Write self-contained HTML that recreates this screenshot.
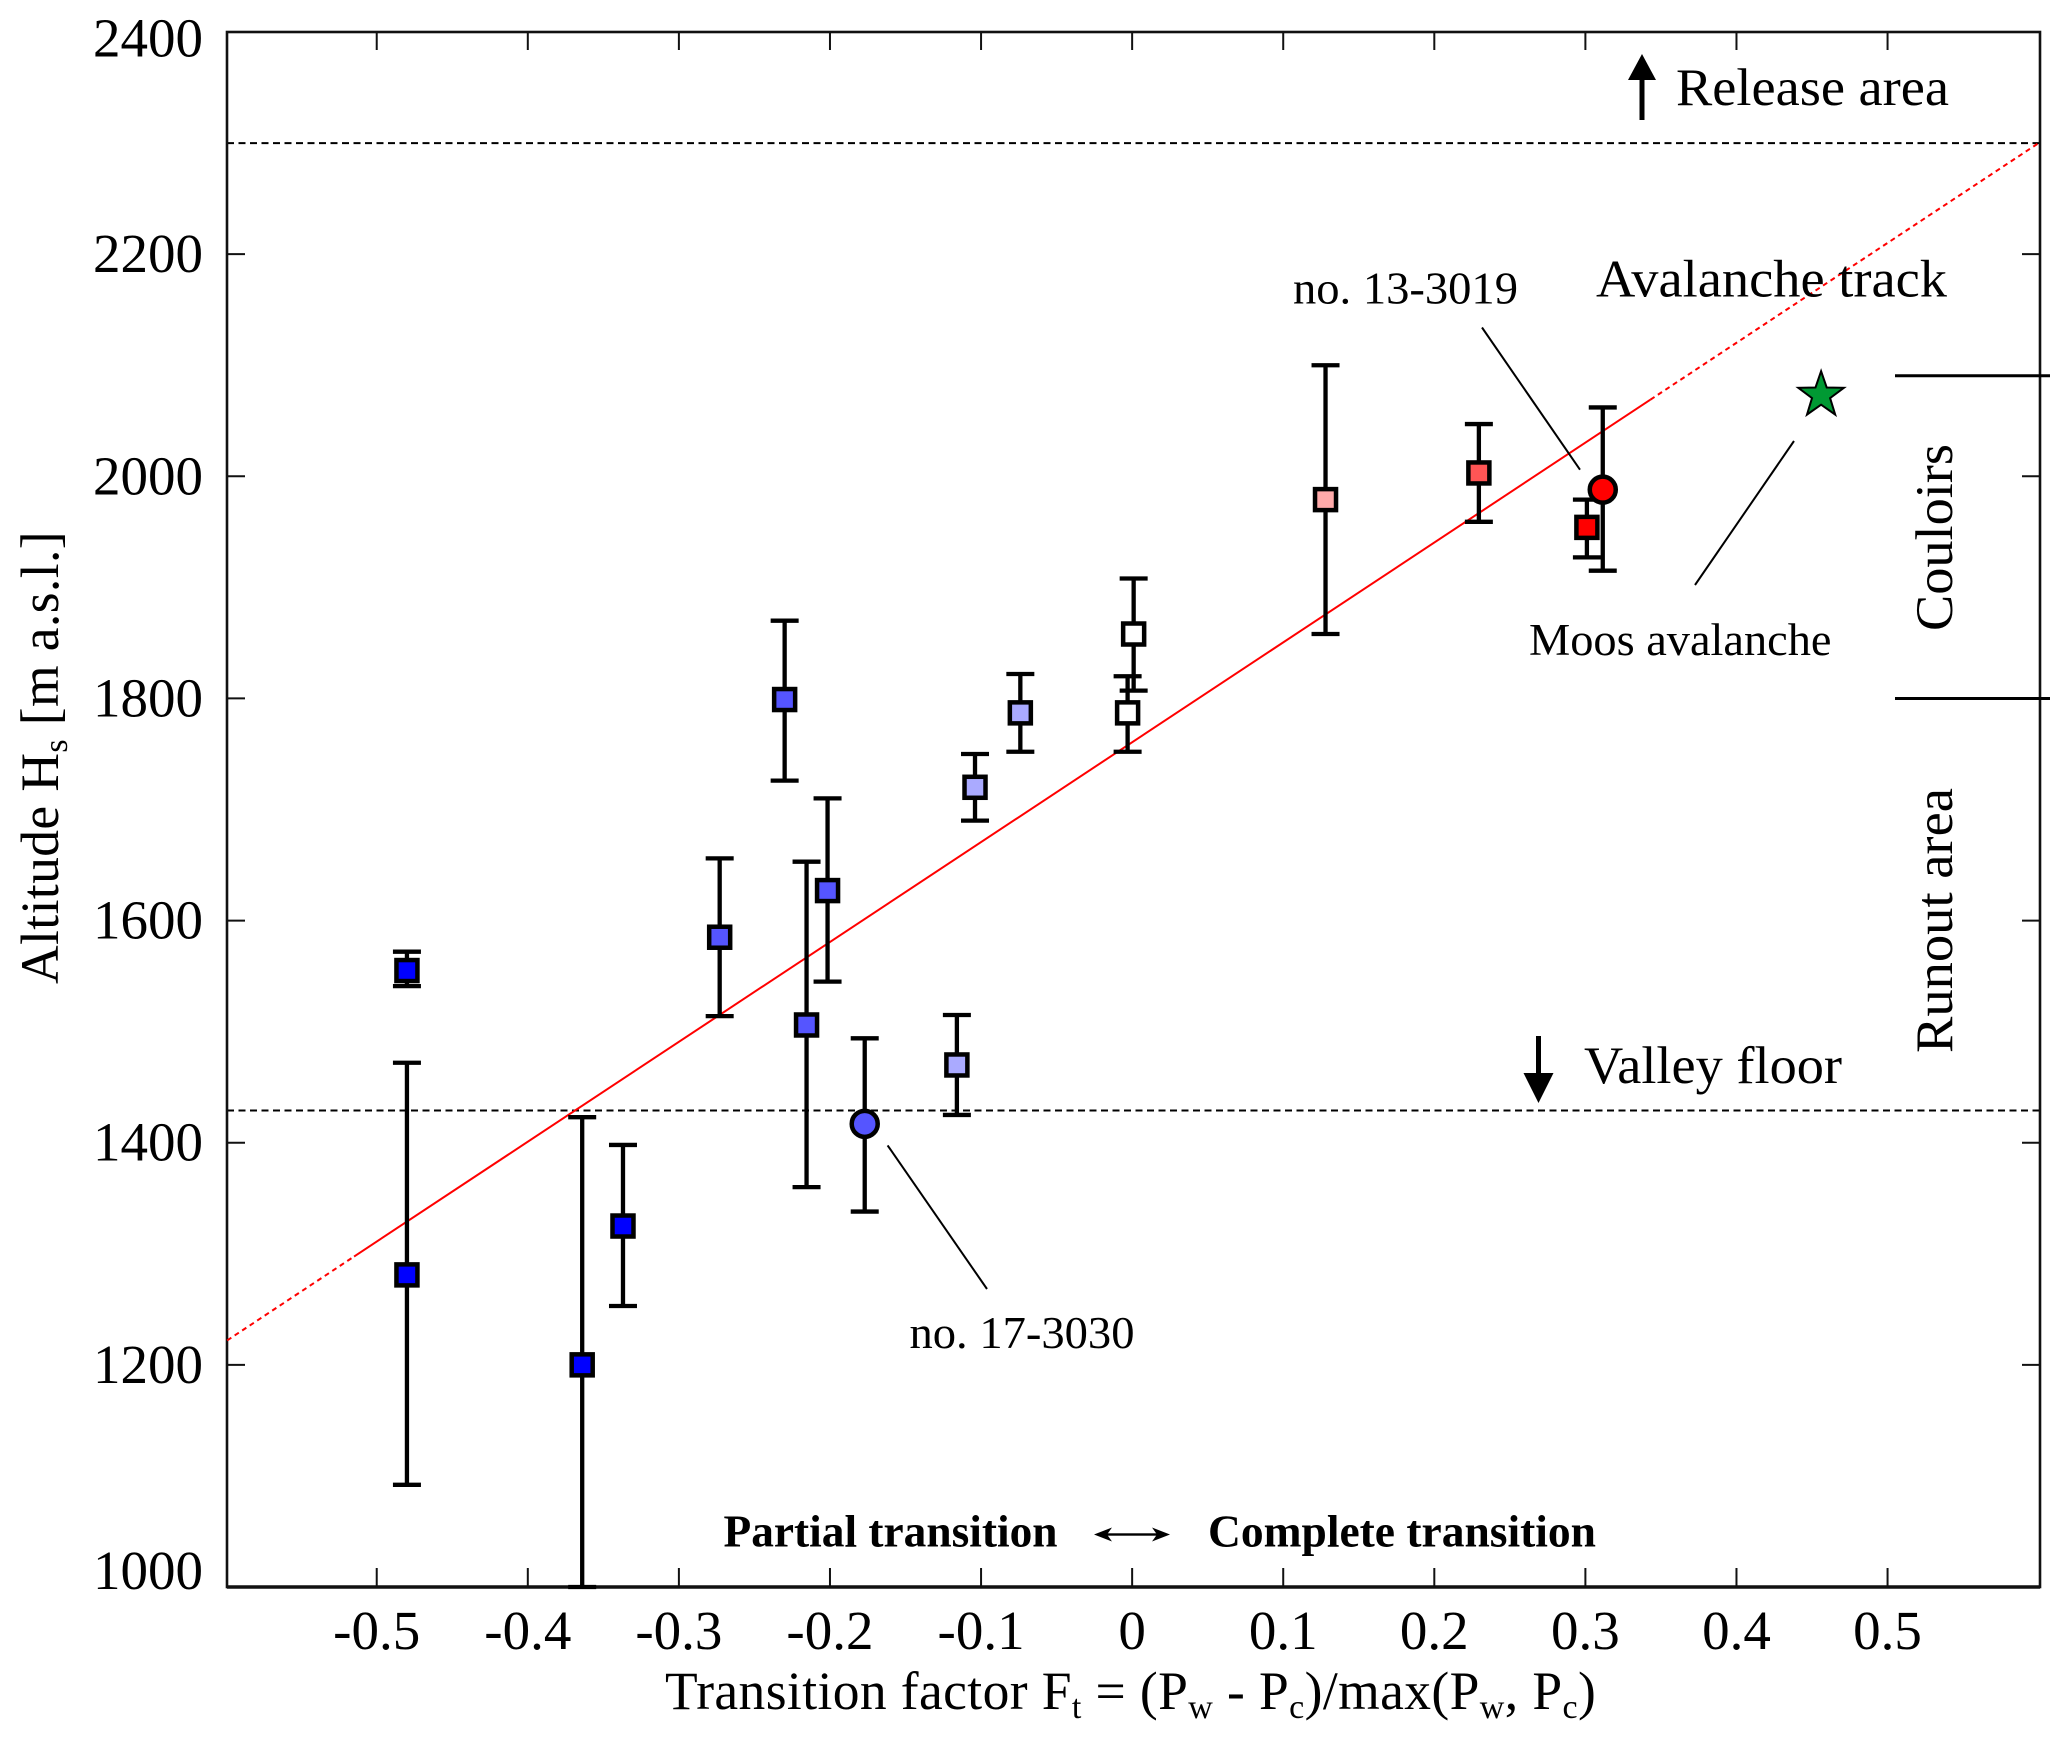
<!DOCTYPE html>
<html lang="en">
<head>
<meta charset="utf-8">
<title>Altitude vs transition factor</title>
<style>
html,body{margin:0;padding:0;background:#fff;}
svg{display:block;}
text{font-family:"Liberation Serif",serif;fill:#000;}
</style>
</head>
<body>
<svg id="chart" xmlns="http://www.w3.org/2000/svg" width="2067" height="1744" viewBox="0 0 2067 1744">
  <rect x="0" y="0" width="2067" height="1744" fill="#fff"/>
  <g id="grid-layer"></g>
  <g id="axis-layer"></g>
  <g id="fit-layer"></g>
  <g id="mark-layer"></g>

  <text x="665" y="1709" font-size="53.5" letter-spacing="0.4">Transition factor F<tspan font-size="34" dy="9">t</tspan><tspan dy="-9"> = (P</tspan><tspan font-size="34" dy="9">w</tspan><tspan dy="-9"> - P</tspan><tspan font-size="34" dy="9">c</tspan><tspan dy="-9">)/max(P</tspan><tspan font-size="34" dy="9">w</tspan><tspan dy="-9">, P</tspan><tspan font-size="34" dy="9">c</tspan><tspan dy="-9">)</tspan></text>
  <text transform="translate(58,984) rotate(-90)" font-size="53.5" letter-spacing="0.4">Altitude H<tspan font-size="34" dy="9">s</tspan><tspan dy="-9"> [m a.s.l.]</tspan></text>

  <text x="1676" y="105" font-size="53" textLength="273" lengthAdjust="spacingAndGlyphs">Release area</text>
  <text x="1596" y="296.5" font-size="53" textLength="351" lengthAdjust="spacingAndGlyphs">Avalanche track</text>
  <text x="1584" y="1083" font-size="53" textLength="258" lengthAdjust="spacingAndGlyphs">Valley floor</text>
  <text transform="translate(1952,631) rotate(-90)" font-size="53" textLength="187" lengthAdjust="spacingAndGlyphs">Couloirs</text>
  <text transform="translate(1952,1053) rotate(-90)" font-size="53" textLength="265" lengthAdjust="spacingAndGlyphs">Runout area</text>

  <text x="1293" y="303.5" font-size="45" textLength="225" lengthAdjust="spacingAndGlyphs">no. 13-3019</text>
  <text x="1529" y="655" font-size="45" textLength="302.5" lengthAdjust="spacingAndGlyphs">Moos avalanche</text>
  <text x="909.5" y="1348" font-size="45" textLength="225" lengthAdjust="spacingAndGlyphs">no. 17-3030</text>

  <text x="723.5" y="1546.5" font-size="46" font-weight="bold" textLength="334" lengthAdjust="spacingAndGlyphs">Partial transition</text>
  <text x="1208" y="1546.5" font-size="46" font-weight="bold" textLength="388" lengthAdjust="spacingAndGlyphs">Complete transition</text>

  <g fill="#000" stroke="none">
    <rect x="1098.6" y="1533.3" width="64.7" height="2.4"/>
    <polygon points="1094,1534.5 1112,1527.5 1107,1534.5 1112,1541.5"/>
    <polygon points="1170,1534.5 1152,1527.5 1157,1534.5 1152,1541.5"/>
  </g>

  <g>
    <rect x="1639.5" y="70" width="5" height="50" fill="#000"/>
    <polygon points="1642,54 1628,80 1656,80" fill="#000"/>
  </g>
  <g>
    <rect x="1536" y="1036" width="5" height="40" fill="#000"/>
    <polygon points="1538.5,1103 1523.5,1073 1553.5,1073" fill="#000"/>
  </g>

  <line x1="1482" y1="327.5" x2="1580" y2="469.7" stroke="#000" stroke-width="2"/>
  <line x1="1794" y1="441" x2="1695" y2="585" stroke="#000" stroke-width="2"/>
  <line x1="887.6" y1="1145.4" x2="987" y2="1289" stroke="#000" stroke-width="2"/>

  <line x1="1895" y1="375.7" x2="2050" y2="375.7" stroke="#000" stroke-width="3"/>
  <line x1="1895" y1="698.5" x2="2050" y2="698.5" stroke="#000" stroke-width="3"/>
</svg>

<script>
// Chart data
const xTickLabels = ['-0.5', '-0.4', '-0.3', '-0.2', '-0.1', '0', '0.1', '0.2', '0.3', '0.4', '0.5'];
const yTickLabels = ['1000', '1200', '1400', '1600', '1800', '2000', '2200', '2400'];
const transitionFactor = [-0.48, -0.48, -0.364, -0.337, -0.273, -0.23, -0.2155, -0.2016, -0.177, -0.116, -0.104, -0.074, -0.003, 0.001, 0.128, 0.2295, 0.301, 0.3115];
const altitude = [1555, 1281, 1200, 1325, 1585, 1799, 1506, 1627, 1417, 1470, 1720, 1787, 1787, 1858, 1979, 2003, 1954, 1988];
const altitudeHigh = [1572, 1472, 1423, 1398, 1656, 1870, 1653, 1710, 1494, 1515, 1750, 1822, 1820, 1908, 2100, 2047, 1979, 2062];
const altitudeLow = [1541, 1092, 1000, 1253, 1514, 1726, 1360, 1545, 1338, 1425, 1690, 1752, 1752, 1807, 1858, 1959, 1927, 1915];
const pointKinds = ['square', 'square', 'square', 'square', 'square', 'square', 'square', 'square', 'circle', 'square', 'square', 'square', 'square', 'square', 'square', 'square', 'square', 'circle'];
const referenceAltitudes = [2300, 1429];
const fitEndsX = [-0.599, 0.6];
const fitEndsY = [1222, 2300];
const fitSolidRange = [-0.515, 0.343];
const starPoint = [0.456, 2073];

const xAxisMin = -0.5991, xAxisMax = 0.6009;
const yAxisMin = 1000, yAxisMax = 2400;
const plotLeft = 227, plotRight = 2040, plotTop = 32, plotBottom = 1587;

function sx(v) { return plotLeft + (v - xAxisMin) / (xAxisMax - xAxisMin) * (plotRight - plotLeft); }
function sy(v) { return plotBottom - (v - yAxisMin) / (yAxisMax - yAxisMin) * (plotBottom - plotTop); }

function fitY(v) {
  const t = (v - fitEndsX[0]) / (fitEndsX[1] - fitEndsX[0]);
  return fitEndsY[0] + t * (fitEndsY[1] - fitEndsY[0]);
}

function shadeFor(ft) {
  if (ft < -0.3) return '#0000ff';
  if (ft < -0.15) return '#5555ff';
  if (ft < -0.05) return '#aaaaff';
  if (ft < 0.05) return '#ffffff';
  if (ft < 0.2) return '#ffaaaa';
  if (ft < 0.3) return '#ff5555';
  return '#ff0000';
}

const NS = 'http://www.w3.org/2000/svg';
function make(tag, attrs, parent) {
  const node = document.createElementNS(NS, tag);
  for (const k in attrs) node.setAttribute(k, attrs[k]);
  parent.appendChild(node);
  return node;
}

const gridLayer = document.getElementById('grid-layer');
const axisLayer = document.getElementById('axis-layer');
const fitLayer = document.getElementById('fit-layer');
const markLayer = document.getElementById('mark-layer');

// Reference lines
referenceAltitudes.forEach(function (alt) {
  const el = make('line', { x1: plotLeft, x2: plotRight, y1: sy(alt), y2: sy(alt), stroke: '#000', 'stroke-width': 2, 'stroke-dasharray': '7 4.5' }, gridLayer);
  
  
});

// Plot frame
const frame = make('rect', { x: plotLeft, y: plotTop, width: plotRight - plotLeft, height: plotBottom - plotTop, fill: 'none', stroke: '#111', 'stroke-width': 2.6 }, axisLayer);


const bottomAxis = make('line', { x1: plotLeft, x2: plotRight, y1: plotBottom, y2: plotBottom, stroke: '#111', 'stroke-width': 3.6 }, axisLayer);



// X ticks and labels
xTickLabels.forEach(function (label) {
  const px = sx(parseFloat(label));
  const bottomTick = make('line', { x1: px, x2: px, y1: plotBottom, y2: plotBottom - 19, stroke: '#111', 'stroke-width': 2 }, axisLayer);
  
  
  const topTick = make('line', { x1: px, x2: px, y1: plotTop, y2: plotTop + 18, stroke: '#111', 'stroke-width': 2 }, axisLayer);
  
  
  const tickText = make('text', { x: px, y: 1649, 'font-size': 55, 'text-anchor': 'middle' }, axisLayer);
  
  
  tickText.textContent = label;
});

// Y ticks and labels
yTickLabels.forEach(function (label) {
  const value = parseFloat(label);
  const py = sy(value);
  const leftTick = make('line', { x1: plotLeft, x2: plotLeft + 18, y1: py, y2: py, stroke: '#111', 'stroke-width': 2 }, axisLayer);
  
  
  const rightTick = make('line', { x1: plotRight, x2: plotRight - 18, y1: py, y2: py, stroke: '#111', 'stroke-width': 2 }, axisLayer);
  
  
  const nudge = value === yAxisMax ? 7.5 : (value === yAxisMin ? -15 : 1);
  const tickText = make('text', { x: 203, y: py + 17 + nudge, 'font-size': 55, 'text-anchor': 'end' }, axisLayer);
  
  
  tickText.textContent = label;
});

// Regression line: dotted over the whole span, solid over the fitted range
function addFitSegment(from, to, dashed) {
  const attrs = { x1: sx(from), y1: sy(fitY(from)), x2: sx(to), y2: sy(fitY(to)), stroke: '#ff0000', 'stroke-width': 2 };
  if (dashed) attrs['stroke-dasharray'] = '5 4';
  return make('line', attrs, fitLayer);
}
const fitLowerTail = addFitSegment(fitEndsX[0], fitSolidRange[0], true);


const fitSolid = addFitSegment(fitSolidRange[0], fitSolidRange[1], false);


const fitUpperTail = addFitSegment(fitSolidRange[1], fitEndsX[1], true);



// Error bars then markers
transitionFactor.forEach(function (ft, i) {
  const px = sx(ft);
  const stem = make('line', { x1: px, x2: px, y1: sy(altitudeHigh[i]), y2: sy(altitudeLow[i]), stroke: '#000', 'stroke-width': 4.3 }, markLayer);
  
  
  const capTop = make('line', { x1: px - 14, x2: px + 14, y1: sy(altitudeHigh[i]), y2: sy(altitudeHigh[i]), stroke: '#000', 'stroke-width': 4.3 }, markLayer);
  
  
  const capLow = make('line', { x1: px - 14, x2: px + 14, y1: sy(altitudeLow[i]), y2: sy(altitudeLow[i]), stroke: '#000', 'stroke-width': 4.3 }, markLayer);
  
  
});
transitionFactor.forEach(function (ft, i) {
  const px = sx(ft);
  const py = sy(altitude[i]);
  const fill = shadeFor(ft);
  let mark;
  if (pointKinds[i] === 'circle') {
    mark = make('circle', { cx: px, cy: py, r: 13, fill: fill, stroke: '#000', 'stroke-width': 4.5 }, markLayer);
  } else {
    mark = make('rect', { x: px - 10.5, y: py - 10.5, width: 21, height: 21, fill: fill, stroke: '#000', 'stroke-width': 4.5 }, markLayer);
  }
  
  
});

// Moos avalanche star
const starPts = [];
for (let k = 0; k < 10; k++) {
  const r = k % 2 === 0 ? 24 : 9.5;
  const a = -Math.PI / 2 + k * Math.PI / 5;
  starPts.push((sx(starPoint[0]) + r * Math.cos(a)).toFixed(1) + ',' + (sy(starPoint[1]) + r * Math.sin(a)).toFixed(1));
}
const star = make('polygon', { points: starPts.join(' '), fill: '#009933', stroke: '#000', 'stroke-width': 2 }, markLayer);


</script>
</body>
</html>
